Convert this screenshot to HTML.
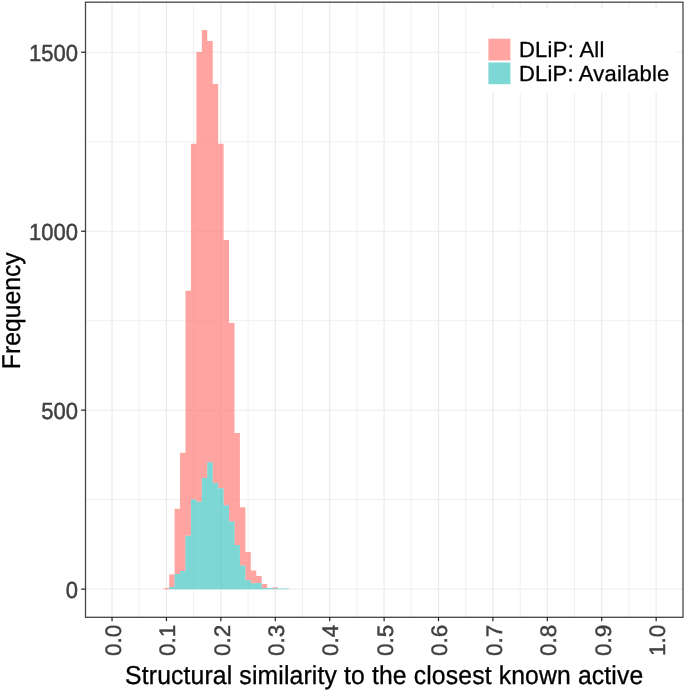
<!DOCTYPE html>
<html><head><meta charset="utf-8"><title>Structural similarity histogram</title>
<style>
html,body{margin:0;padding:0;background:#fff;}
svg{display:block;}
text{font-family:"Liberation Sans",sans-serif;text-rendering:geometricPrecision;}
.tick{fill:#404040;font-size:22px;stroke:#404040;stroke-width:0.45px;}
.xtk{font-size:22.5px;}
.title{fill:#000;font-size:24.75px;stroke:#000;stroke-width:0.3px;}
.xt{letter-spacing:0.135px;}
.leg{fill:#000;font-size:22px;letter-spacing:0.3px;stroke:#000;stroke-width:0.3px;}
</style></head><body>
<svg width="685" height="692" viewBox="0 0 685 692">
<rect x="0" y="0" width="685" height="692" fill="#fff"/>
<g stroke="#ebebeb" fill="none">
<line x1="139.25" y1="2.2" x2="139.25" y2="617.3" stroke-width="0.75"/>
<line x1="193.67" y1="2.2" x2="193.67" y2="617.3" stroke-width="0.75"/>
<line x1="248.07" y1="2.2" x2="248.07" y2="617.3" stroke-width="0.75"/>
<line x1="302.49" y1="2.2" x2="302.49" y2="617.3" stroke-width="0.75"/>
<line x1="356.90" y1="2.2" x2="356.90" y2="617.3" stroke-width="0.75"/>
<line x1="411.31" y1="2.2" x2="411.31" y2="617.3" stroke-width="0.75"/>
<line x1="465.72" y1="2.2" x2="465.72" y2="617.3" stroke-width="0.75"/>
<line x1="520.13" y1="2.2" x2="520.13" y2="617.3" stroke-width="0.75"/>
<line x1="574.54" y1="2.2" x2="574.54" y2="617.3" stroke-width="0.75"/>
<line x1="628.95" y1="2.2" x2="628.95" y2="617.3" stroke-width="0.75"/>
<line x1="85.5" y1="499.67" x2="683.0" y2="499.67" stroke-width="0.75"/>
<line x1="85.5" y1="320.70" x2="683.0" y2="320.70" stroke-width="0.75"/>
<line x1="85.5" y1="141.74" x2="683.0" y2="141.74" stroke-width="0.75"/>
<line x1="112.05" y1="2.2" x2="112.05" y2="617.3" stroke-width="1.2"/>
<line x1="166.46" y1="2.2" x2="166.46" y2="617.3" stroke-width="1.2"/>
<line x1="220.87" y1="2.2" x2="220.87" y2="617.3" stroke-width="1.2"/>
<line x1="275.28" y1="2.2" x2="275.28" y2="617.3" stroke-width="1.2"/>
<line x1="329.69" y1="2.2" x2="329.69" y2="617.3" stroke-width="1.2"/>
<line x1="384.10" y1="2.2" x2="384.10" y2="617.3" stroke-width="1.2"/>
<line x1="438.51" y1="2.2" x2="438.51" y2="617.3" stroke-width="1.2"/>
<line x1="492.92" y1="2.2" x2="492.92" y2="617.3" stroke-width="1.2"/>
<line x1="547.33" y1="2.2" x2="547.33" y2="617.3" stroke-width="1.2"/>
<line x1="601.74" y1="2.2" x2="601.74" y2="617.3" stroke-width="1.2"/>
<line x1="656.15" y1="2.2" x2="656.15" y2="617.3" stroke-width="1.2"/>
<line x1="85.5" y1="589.15" x2="683.0" y2="589.15" stroke-width="1.0"/>
<line x1="85.5" y1="410.18" x2="683.0" y2="410.18" stroke-width="1.0"/>
<line x1="85.5" y1="231.22" x2="683.0" y2="231.22" stroke-width="1.0"/>
<line x1="85.5" y1="52.25" x2="683.0" y2="52.25" stroke-width="1.0"/>
</g>
<path d="M163.74,588.00 L169.18,588.00 L169.18,574.60 L174.62,574.60 L174.62,508.80 L180.06,508.80 L180.06,452.70 L185.50,452.70 L185.50,290.80 L190.94,290.80 L190.94,143.80 L196.39,143.80 L196.39,51.90 L201.83,51.90 L201.83,30.00 L207.27,30.00 L207.27,41.00 L212.71,41.00 L212.71,83.90 L218.15,83.90 L218.15,143.80 L223.59,143.80 L223.59,239.90 L229.03,239.90 L229.03,322.90 L234.47,322.90 L234.47,433.10 L239.91,433.10 L239.91,507.30 L245.35,507.30 L245.35,552.00 L250.80,552.00 L250.80,570.50 L256.24,570.50 L256.24,576.10 L261.68,576.10 L261.68,584.10 L267.12,584.10 L267.12,587.90 L272.56,587.90 L272.56,587.30 L278.00,587.30 L278.00,588.50 L272.56,588.50 L272.56,588.30 L267.12,588.30 L267.12,587.90 L261.68,587.90 L261.68,583.00 L256.24,583.00 L256.24,583.20 L250.80,583.20 L250.80,580.30 L245.35,580.30 L245.35,565.60 L239.91,565.60 L239.91,545.00 L234.47,545.00 L234.47,521.60 L229.03,521.60 L229.03,505.50 L223.59,505.50 L223.59,488.30 L218.15,488.30 L218.15,482.90 L212.71,482.90 L212.71,462.20 L207.27,462.20 L207.27,477.90 L201.83,477.90 L201.83,501.80 L196.39,501.80 L196.39,499.40 L190.94,499.40 L190.94,535.80 L185.50,535.80 L185.50,570.90 L180.06,570.90 L180.06,574.00 L174.62,574.00 L174.62,587.10 L169.18,587.10 L169.18,589.15 L163.74,589.15 Z" fill="rgba(255,125,121,0.7)" stroke="none"/>
<path d="M169.18,587.10 L174.62,587.10 L174.62,574.00 L180.06,574.00 L180.06,570.90 L185.50,570.90 L185.50,535.80 L190.94,535.80 L190.94,499.40 L196.39,499.40 L196.39,501.80 L201.83,501.80 L201.83,477.90 L207.27,477.90 L207.27,462.20 L212.71,462.20 L212.71,482.90 L218.15,482.90 L218.15,488.30 L223.59,488.30 L223.59,505.50 L229.03,505.50 L229.03,521.60 L234.47,521.60 L234.47,545.00 L239.91,545.00 L239.91,565.60 L245.35,565.60 L245.35,580.30 L250.80,580.30 L250.80,583.20 L256.24,583.20 L256.24,583.00 L261.68,583.00 L261.68,587.90 L267.12,587.90 L267.12,588.30 L272.56,588.30 L272.56,588.50 L278.00,588.50 L278.00,588.60 L283.44,588.60 L283.44,588.60 L288.88,588.60 L288.88,589.15 L283.44,589.15 L283.44,589.15 L278.00,589.15 L278.00,589.15 L272.56,589.15 L272.56,589.15 L267.12,589.15 L267.12,589.15 L261.68,589.15 L261.68,589.15 L256.24,589.15 L256.24,589.15 L250.80,589.15 L250.80,589.15 L245.35,589.15 L245.35,589.15 L239.91,589.15 L239.91,589.15 L234.47,589.15 L234.47,589.15 L229.03,589.15 L229.03,589.15 L223.59,589.15 L223.59,589.15 L218.15,589.15 L218.15,589.15 L212.71,589.15 L212.71,589.15 L207.27,589.15 L207.27,589.15 L201.83,589.15 L201.83,589.15 L196.39,589.15 L196.39,589.15 L190.94,589.15 L190.94,589.15 L185.50,589.15 L185.50,589.15 L180.06,589.15 L180.06,589.15 L174.62,589.15 L174.62,589.15 L169.18,589.15 Z" fill="rgba(69,198,195,0.7)" stroke="none"/>
<rect x="480" y="8" width="197" height="84.5" fill="#fff"/>
<rect x="488.4" y="38.7" width="22" height="21.7" fill="rgb(255,164,161)"/>
<rect x="488.4" y="62.5" width="22" height="21.7" fill="rgb(125,215,213)"/>
<text class="leg" transform="translate(518.9,57.4) scale(1,0.99)">DLiP: All</text>
<text class="leg" style="letter-spacing:0.2px" transform="translate(518.9,81.4) scale(1,0.99)">DLiP: Available</text>
<rect x="85.5" y="2.2" width="597.50" height="615.10" fill="none" stroke="#464646" stroke-width="1.3"/>
<g stroke="#222" stroke-width="1.2">
<line x1="112.05" y1="617.3" x2="112.05" y2="621.20"/>
<line x1="166.46" y1="617.3" x2="166.46" y2="621.20"/>
<line x1="220.87" y1="617.3" x2="220.87" y2="621.20"/>
<line x1="275.28" y1="617.3" x2="275.28" y2="621.20"/>
<line x1="329.69" y1="617.3" x2="329.69" y2="621.20"/>
<line x1="384.10" y1="617.3" x2="384.10" y2="621.20"/>
<line x1="438.51" y1="617.3" x2="438.51" y2="621.20"/>
<line x1="492.92" y1="617.3" x2="492.92" y2="621.20"/>
<line x1="547.33" y1="617.3" x2="547.33" y2="621.20"/>
<line x1="601.74" y1="617.3" x2="601.74" y2="621.20"/>
<line x1="656.15" y1="617.3" x2="656.15" y2="621.20"/>
<line x1="81.10" y1="589.15" x2="85.5" y2="589.15"/>
<line x1="81.10" y1="410.18" x2="85.5" y2="410.18"/>
<line x1="81.10" y1="231.22" x2="85.5" y2="231.22"/>
<line x1="81.10" y1="52.25" x2="85.5" y2="52.25"/>
</g>
<text class="tick" text-anchor="end" transform="translate(77.9,597.90) scale(1,1.055)">0</text>
<text class="tick" text-anchor="end" transform="translate(77.9,418.93) scale(1,1.055)">500</text>
<text class="tick" text-anchor="end" transform="translate(77.9,239.97) scale(1,1.055)">1000</text>
<text class="tick" text-anchor="end" transform="translate(77.9,61.00) scale(1,1.055)">1500</text>
<text class="tick xtk" text-anchor="end" transform="translate(120.85,624.8) rotate(-90) scale(1,0.995)">0.0</text>
<text class="tick xtk" text-anchor="end" transform="translate(175.26,624.8) rotate(-90) scale(1,0.995)">0.1</text>
<text class="tick xtk" text-anchor="end" transform="translate(229.67,624.8) rotate(-90) scale(1,0.995)">0.2</text>
<text class="tick xtk" text-anchor="end" transform="translate(284.08,624.8) rotate(-90) scale(1,0.995)">0.3</text>
<text class="tick xtk" text-anchor="end" transform="translate(338.49,624.8) rotate(-90) scale(1,0.995)">0.4</text>
<text class="tick xtk" text-anchor="end" transform="translate(392.90,624.8) rotate(-90) scale(1,0.995)">0.5</text>
<text class="tick xtk" text-anchor="end" transform="translate(447.31,624.8) rotate(-90) scale(1,0.995)">0.6</text>
<text class="tick xtk" text-anchor="end" transform="translate(501.72,624.8) rotate(-90) scale(1,0.995)">0.7</text>
<text class="tick xtk" text-anchor="end" transform="translate(556.13,624.8) rotate(-90) scale(1,0.995)">0.8</text>
<text class="tick xtk" text-anchor="end" transform="translate(610.54,624.8) rotate(-90) scale(1,0.995)">0.9</text>
<text class="tick xtk" text-anchor="end" transform="translate(664.95,624.8) rotate(-90) scale(1,0.995)">1.0</text>
<text class="title xt" text-anchor="middle" transform="translate(384.25,684.1) scale(1,1.05)">Structural similarity to the closest known active</text>
<text class="title" text-anchor="middle" transform="translate(20.4,310.75) rotate(-90) scale(1,1.04)">Frequency</text>
</svg></body></html>
